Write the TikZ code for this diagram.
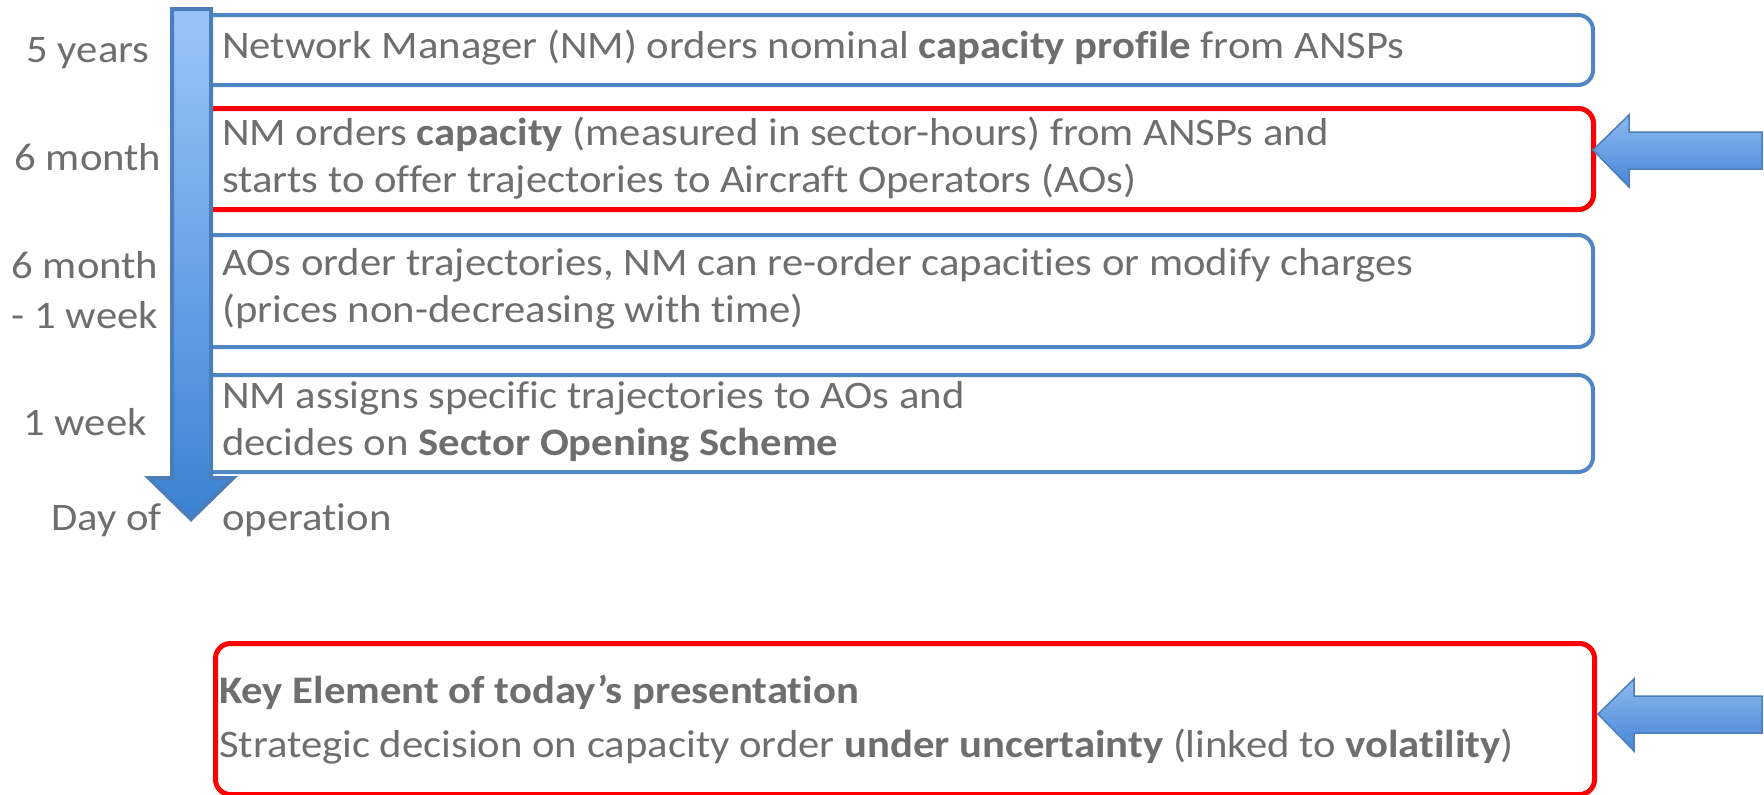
\documentclass[tikz,border=0pt]{standalone}
\usepackage{fontspec}
\setmainfont{Carlito}[FakeStretch=1.095,Ligatures=NoCommon]
\definecolor{txtgray}{RGB}{110,110,110}
\definecolor{boxblue}{RGB}{79,134,198}
\definecolor{arrowedge}{RGB}{74,126,187}
\definecolor{arrowtop}{RGB}{155,197,249}
\definecolor{arrowbot}{RGB}{59,130,212}
\definecolor{harrowtop}{RGB}{141,185,240}
\definecolor{harrowbot}{RGB}{72,134,214}
\definecolor{keyred}{RGB}{255,0,0}
\begin{document}
\begin{tikzpicture}[x=1pt,y=-1pt,
  txt/.style={inner sep=0pt,anchor=base west,text=txtgray,font=\fontsize{39}{47}\selectfont},
  lbl/.style={inner sep=0pt,anchor=base,text=txtgray,font=\fontsize{39}{47}\selectfont},
  bluebox/.style={draw=boxblue,line width=4pt,rounded corners=15pt,anchor=north west,inner sep=0pt},
  redbox/.style={draw=keyred,line width=5pt,rounded corners=15pt,anchor=north west,inner sep=0pt},
  blockarrow/.style={draw=arrowedge,line width=1.5pt,top color=harrowtop,bottom color=harrowbot,line join=miter}
]
\useasboundingbox (0,0) rectangle (1764,795);

% boxes
\node[bluebox,minimum width=1396pt,minimum height=70pt] (b1) at (195,13) {};
\node[redbox,minimum width=1396pt,minimum height=101pt] (b2) at (195,106) {};
\node[bluebox,minimum width=1396pt,minimum height=112pt] (b3) at (195,233) {};
\node[bluebox,minimum width=1396pt,minimum height=97pt] (b4) at (195,373) {};
\node[redbox,minimum width=1379pt,minimum height=151pt] (b5) at (213,641) {};

% vertical time arrow
\path[draw=arrowedge,line width=4pt,top color=arrowtop,bottom color=arrowbot,line join=miter]
  (172,9) -- (211,9) -- (211,478) -- (233,478) -- (191,519) -- (149,478) -- (172,478) -- cycle;

% right block arrows
\path[blockarrow] (1593,150) -- (1629,115) -- (1629,132) -- (1762,132) -- (1762,169) -- (1629,169) -- (1629,187) -- cycle;
\path[blockarrow] (1598,714) -- (1634,679) -- (1634,696) -- (1762,696) -- (1762,733) -- (1634,733) -- (1634,751) -- cycle;

% box texts
\node[txt] (t1) at (222,58) {Network Manager (NM) orders nominal \textbf{capacity profile} from ANSPs};
\node[txt] (t2a) at (222,145) {NM orders \textbf{capacity} (measured in sector-hours) from ANSPs and};
\node[txt] (t2b) at (222,192) {starts to offer trajectories to Aircraft Operators (AOs)};
\node[txt] (t3a) at (222,275) {AOs order trajectories, NM can re-order capacities or modify charges};
\node[txt] (t3b) at (222,322) {(prices non-decreasing with time)};
\node[txt] (t4a) at (222,408) {NM assigns specific trajectories to AOs and};
\node[txt] (t4b) at (222,455) {decides on \textbf{Sector Opening Scheme}};
\node[txt] (op) at (222,530) {operation};
\node[txt] (k1) at (219,703) {\textbf{Key Element of today’s presentation}};
\node[txt] (k2) at (219,757) {Strategic decision on capacity order \textbf{under uncertainty} (linked to \textbf{volatility})};

% time labels
\node[lbl] (l1) at (88,62) {5 years};
\node[lbl] (l2) at (88,170) {6 month};
\node[lbl] (l3) at (85,278) {6 month};
\node[lbl] (l4) at (85,328) {- 1 week};
\node[lbl] (l5) at (85,435) {1 week};
\node[lbl,anchor=base east] (l6) at (162,530) {Day of};
\end{tikzpicture}
\end{document}
